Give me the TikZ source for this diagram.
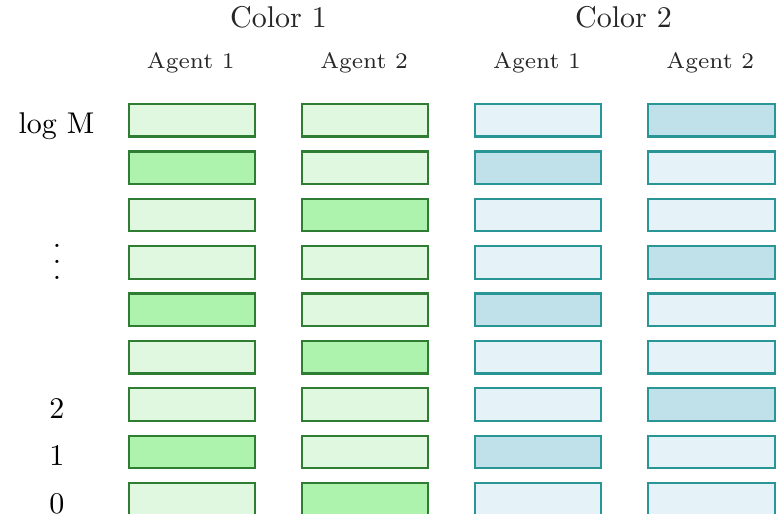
\documentclass[tikz,border=0pt]{standalone}
\definecolor{gfill}{HTML}{DFF8DF}
\definecolor{gdark}{HTML}{ADF2AD}
\definecolor{gline}{HTML}{2E7D32}
\definecolor{bfill}{HTML}{E5F3F8}
\definecolor{bdark}{HTML}{C0E0EA}
\definecolor{bline}{HTML}{2A9595}
\newcommand\myvdots{\vbox{\baselineskip5.33pt\lineskiplimit0pt\hbox{.}\hbox{.}\hbox{.}}}
\begin{document}
\begin{tikzpicture}[x=0.33333pt,y=-0.33333pt,
  cell/.style={rectangle, line width=0.75pt, minimum width=42.1pt, minimum height=10.83pt, inner sep=0pt, anchor=north west},
  gcell/.style={cell, draw=gline},
  bcell/.style={cell, draw=bline},
  head/.style={anchor=base, inner sep=0pt, text=black!85},
  agent/.style={anchor=base, inner sep=0pt, text=black!85, font=\fontsize{7.45}{9}\selectfont},
  rowlab/.style={anchor=base, inner sep=0pt}]
\useasboundingbox (0,0) rectangle (777,514);
\node[head] (c1) at (278.5,28) {Color 1};
\node[head] (c2) at (623.5,28) {Color 2};
\node[agent] (h11) at (190.8,69) {Agent 1};
\node[agent] (h12) at (364.1,69) {Agent 2};
\node[agent] (h21) at (537.0,69) {Agent 1};
\node[agent] (h22) at (710.3,69) {Agent 2};
\foreach \r in {0,...,8}{
  \pgfmathtruncatemacro\m{mod(\r,3)}
  \pgfmathsetmacro\yy{103+47.375*\r}
  \ifnum\m=1 \def\fa{gdark}\else\def\fa{gfill}\fi
  \ifnum\m=2 \def\fb{gdark}\else\def\fb{gfill}\fi
  \ifnum\m=1 \def\fc{bdark}\else\def\fc{bfill}\fi
  \ifnum\m=0 \def\fd{bdark}\else\def\fd{bfill}\fi
  \node[gcell, fill=\fa] (a\r) at (127.5,\yy) {};
  \node[gcell, fill=\fb] (b\r) at (300.8,\yy) {};
  \node[bcell, fill=\fc] (c\r) at (473.8,\yy) {};
  \node[bcell, fill=\fd] (d\r) at (647.2,\yy) {};
}
\node[rowlab] (logm) at (56.5,134) {log M};
\node[inner sep=0pt] (dots) at (57,261.5) {\myvdots};
\node[rowlab] (l2) at (57,418.3) {2};
\node[rowlab] (l1) at (57,465.6) {1};
\node[rowlab] (l0) at (57,513) {0};
\end{tikzpicture}
\end{document}
